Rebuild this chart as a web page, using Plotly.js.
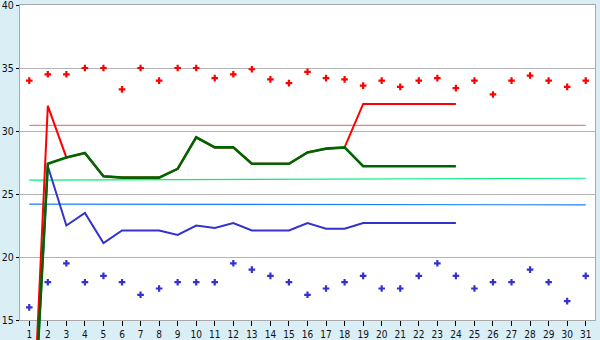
<!DOCTYPE html>
<html>
<head>
<meta charset="utf-8">
<script src="https://cdn.plot.ly/plotly-3.0.1.min.js"></script>
<style>
html,body{margin:0;padding:0;background:#d9eef5;}
#chart{width:600px;height:340px;}
</style>
</head>
<body>
<div id="chart"></div>
<script>
// ---- data ----
const days = [1,2,3,4,5,6,7,8,9,10,11,12,13,14,15,16,17,18,19,20,21,22,23,24,25,26,27,28,29,30,31];
const dayTicks = ['1','2','3','4','5','6','7','8','9','10','11','12','13','14','15','16','17','18','19','20','21','22','23','24','25','26','27','28','29','30','31'];
const redDots = [34,34.5,34.5,35,35,33.3,35,34,35,35,34.2,34.5,34.9,34.1,33.8,34.7,34.2,34.1,33.6,34,33.5,34,34.2,33.4,34,32.9,34,34.4,34,33.5,34];
const blueDots = [16,18,19.5,18,18.5,18,17,17.5,18,18,18,19.5,19,18.5,18,17,17.5,18,18.5,17.5,17.5,18.5,19.5,18.5,17.5,18,18,19,18,16.5,18.5];
const lineDays = [1,2,3,4,5,6,7,8,9,10,11,12,13,14,15,16,17,18,19,20,21,22,23,24];
const redLine = [0,32,27.9,28.25,26.4,26.3,26.3,26.3,27,29.5,28.7,28.7,27.4,27.4,27.4,28.3,28.6,28.7,32.15,32.15,32.15,32.15,32.15,32.15];
const greenLine = [0,27.4,27.9,28.25,26.4,26.3,26.3,26.3,27,29.5,28.7,28.7,27.4,27.4,27.4,28.3,28.6,28.7,27.2,27.2,27.2,27.2,27.2,27.2];
const blueLine = [0,27.2,22.5,23.5,21.1,22.1,22.1,22.1,21.75,22.5,22.3,22.7,22.1,22.1,22.1,22.7,22.25,22.25,22.7,22.7,22.7,22.7,22.7,22.7];
const refDays = [1,31];
const pinkRef = [30.45,30.45];
const greenRef = [26.1,26.25];
const blueRef = [24.2,24.14];
const yTicks = [15,20,25,30,35,40];

// ---- geometry ----
const H = 340, bottomPad = 20;
const plotH = H - 5;               // margin top 5, bottom 0
const yMin = 15, yMax = 40;
const pxPerUnit = (plotH - bottomPad) / (yMax - yMin);
const y2Min = yMin - bottomPad / pxPerUnit;

function line(x, y, color, width) {
  return {x: x, y: y, xaxis: 'x', yaxis: 'y2', type: 'scatter', mode: 'lines',
          line: {color: color, width: width}, hoverinfo: 'skip', showlegend: false};
}
function dots(x, y, color, ax) {
  return {x: x, y: y, xaxis: 'x', yaxis: ax, type: 'scatter', mode: 'markers',
          marker: {symbol: 'cross', size: 5.5, color: color}, hoverinfo: 'skip', showlegend: false};
}

const traces = [
  dots(days, redDots, '#ff0000', 'y'),
  line(refDays, pinkRef, '#f08080', 1.2),
  line(refDays, greenRef, '#00ee77', 1.2),
  line(refDays, blueRef, '#1a7cff', 1.2),
  dots(days, blueDots, '#3333cc', 'y2'),
  line(lineDays, blueLine, '#3333cc', 2),
  line(lineDays, redLine, '#ff0000', 2),
  line(lineDays, greenLine, '#006400', 2.6)
];

const font = {family: '"DejaVu Sans Condensed", "DejaVu Sans", sans-serif', size: 10.5, color: '#111'};
const xFont = {family: '"DejaVu Sans Condensed", "DejaVu Sans", sans-serif', size: 10, color: '#111'};

const layout = {
  width: 600, height: 340,
  margin: {l: 20, r: 5, t: 5, b: 0, pad: 0},
  paper_bgcolor: '#d9eef5',
  plot_bgcolor: 'rgba(0,0,0,0)',
  font: font,
  showlegend: false,
  xaxis: {
    range: [0.5, 31.5], anchor: 'y',
    tickmode: 'array', tickvals: days, ticktext: dayTicks,
    ticks: 'outside', ticklen: 5, tickcolor: '#000', tickwidth: 1,
    showline: true, linecolor: '#a8a8a8', linewidth: 1, mirror: true,
    showgrid: false, zeroline: false, tickfont: xFont, fixedrange: true
  },
  yaxis: {
    domain: [bottomPad / plotH, 1], range: [yMin, yMax], anchor: 'x',
    tickmode: 'array', tickvals: yTicks,
    ticks: 'outside', ticklen: 3, tickcolor: '#000', tickwidth: 1,
    ticklabeloverflow: 'allow',
    showline: true, linecolor: '#a8a8a8', linewidth: 1, mirror: true,
    showgrid: true, gridcolor: '#b4b4b4', gridwidth: 1,
    zeroline: false, tickfont: font, fixedrange: true
  },
  yaxis2: {
    domain: [0, 1], range: [y2Min, yMax], anchor: 'x',
    visible: false, showgrid: false, zeroline: false, fixedrange: true
  },
  shapes: [{
    type: 'rect', xref: 'x domain', yref: 'y domain', x0: 0, x1: 1, y0: 0, y1: 1,
    fillcolor: '#ffffff', line: {width: 0}, layer: 'below'
  }]
};

Plotly.newPlot('chart', traces, layout, {staticPlot: true, displayModeBar: false});
</script>
</body>
</html>
